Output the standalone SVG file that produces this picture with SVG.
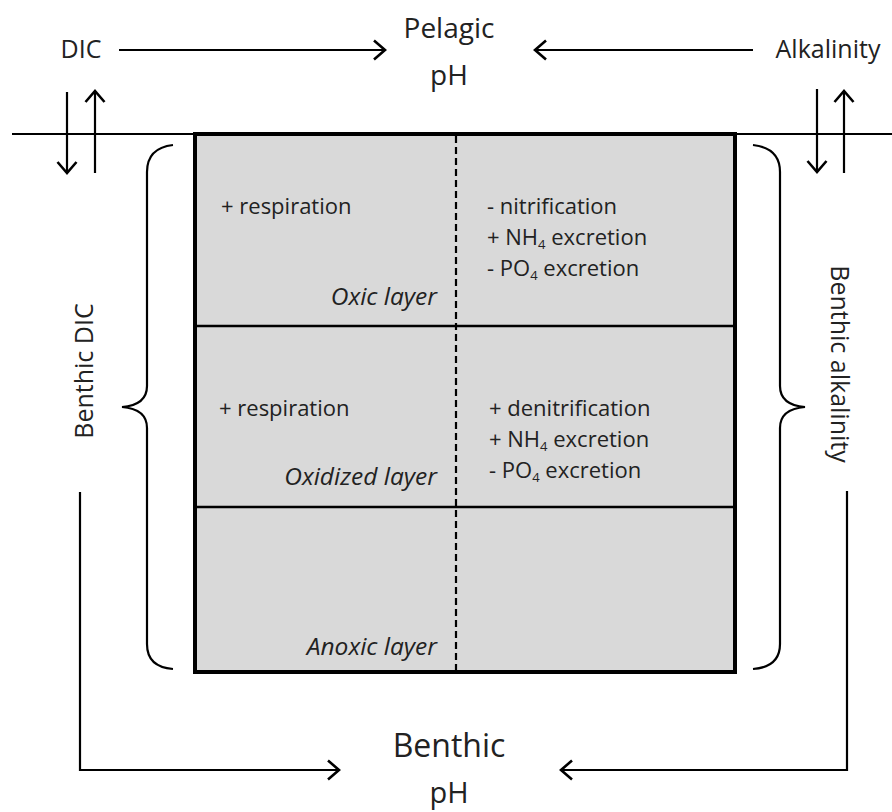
<svg xmlns="http://www.w3.org/2000/svg" width="892" height="812" viewBox="0 0 892 812">
<style>
.ln{stroke:#000;stroke-width:2.2;fill:none}
.arr{stroke:#000;stroke-width:2.2;fill:none;marker-end:url(#chev)}
.t{font-family:"Open Sans","Liberation Sans",sans-serif;fill:#222}
.s{font-size:22px}
.it{font-style:italic;font-size:24.5px}
.m{font-size:25px}
.big{font-size:28px}
.sub{font-size:13px}
</style>
<defs>
<marker id="chev" markerUnits="userSpaceOnUse" markerWidth="16" markerHeight="22" refX="13" refY="11" orient="auto">
<path d="M2,1.5 L13,11 L2,20.5" fill="none" stroke="#000" stroke-width="2.6"/>
</marker>
</defs>
<rect width="892" height="812" fill="#fff"/>

<g id="sediment">
<rect x="195" y="134" width="540" height="538" fill="#d9d9d9" stroke="#000" stroke-width="4"/>
<line x1="195" y1="326" x2="735" y2="326" stroke="#000" stroke-width="2.5"/>
<line x1="195" y1="507" x2="735" y2="507" stroke="#000" stroke-width="2.5"/>
<line x1="456" y1="136" x2="456" y2="670" stroke="#000" stroke-width="2.2" stroke-dasharray="7,4"/>
</g>

<g id="oxic">
<text class="t s" x="221" y="214">+ respiration</text>
<text class="t s" x="487" y="214">- nitrification</text>
<text class="t s" x="487" y="245">+ NH<tspan class="sub" dy="4">4</tspan><tspan dy="-4"> excretion</tspan></text>
<text class="t s" x="487" y="276">- PO<tspan class="sub" dy="4">4</tspan><tspan dy="-4"> excretion</tspan></text>
<text class="t it" x="437" y="305" text-anchor="end">Oxic layer</text>
</g>

<g id="oxidized">
<text class="t s" x="219" y="416">+ respiration</text>
<text class="t s" x="489" y="416">+ denitrification</text>
<text class="t s" x="489" y="447">+ NH<tspan class="sub" dy="4">4</tspan><tspan dy="-4"> excretion</tspan></text>
<text class="t s" x="489" y="478">- PO<tspan class="sub" dy="4">4</tspan><tspan dy="-4"> excretion</tspan></text>
<text class="t it" x="437" y="485" text-anchor="end">Oxidized layer</text>
</g>

<g id="anoxic">
<text class="t it" x="437" y="655" text-anchor="end">Anoxic layer</text>
</g>

<g id="pelagic-ph">
<text class="t big" x="449" y="38" text-anchor="middle">Pelagic</text>
<text class="t big" x="449" y="85" text-anchor="middle">pH</text>
</g>

<g id="dic">
<text class="t m" x="81" y="58" text-anchor="middle">DIC</text>
</g>

<g id="alkalinity">
<text class="t m" x="828" y="58" text-anchor="middle">Alkalinity</text>
</g>

<g id="benthic-dic">
<text class="t m" transform="translate(93,371) rotate(-90)" text-anchor="middle">Benthic DIC</text>
</g>

<g id="benthic-alk">
<text class="t m" transform="translate(831,364) rotate(90)" text-anchor="middle">Benthic alkalinity</text>
</g>

<g id="benthic-ph">
<text class="t big" x="449" y="757" text-anchor="middle" style="font-size:32px">Benthic</text>
<text class="t big" x="449" y="803" text-anchor="middle" style="font-size:29px">pH</text>
</g>

<g id="connectors">
<line class="ln" x1="12" y1="134" x2="195" y2="134"/>
<line class="ln" x1="735" y1="134" x2="892" y2="134"/>
<line class="arr" x1="119" y1="50" x2="385" y2="50"/>
<line class="arr" x1="753" y1="50" x2="535" y2="50"/>
<line class="arr" x1="67" y1="92" x2="67" y2="173"/>
<line class="arr" x1="95" y1="173" x2="95" y2="91"/>
<line class="arr" x1="817" y1="89" x2="817" y2="172"/>
<line class="arr" x1="844" y1="173" x2="844" y2="91"/>
<path class="ln" d="M173,145 Q147,148 147,172 L147,386 Q147,405 122,407 Q147,409 147,428 L147,644 Q147,667 173,669"/>
<path class="ln" d="M753,145 Q780,148 780,172 L780,386 Q780,405 805,407 Q780,409 780,428 L780,644 Q780,667 753,669"/>
<path class="arr" d="M80,492 L80,770 L339,770"/>
<path class="arr" d="M847,491 L847,770 L561,770"/>
</g>
</svg>
